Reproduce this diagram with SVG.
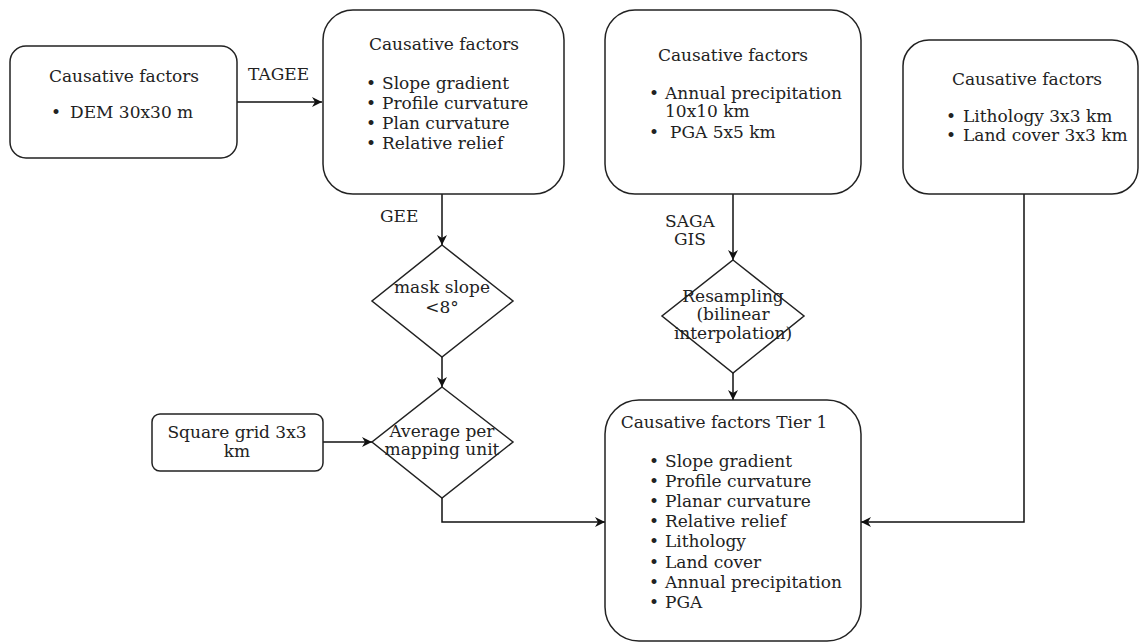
<svg xmlns="http://www.w3.org/2000/svg" width="1139" height="643" viewBox="0 0 1139 643">
<defs>
<marker id="arr" markerUnits="userSpaceOnUse" markerWidth="11" markerHeight="10" refX="10" refY="5" orient="auto">
<path d="M0,0 L10,5 L0,10 L3,5 z" fill="#111"/>
</marker>
<style>
.box{fill:#fff;stroke:#222;stroke-width:1.5}
.t{font-family:"DejaVu Serif","Liberation Serif",serif;font-size:17px;fill:#222}
.c{text-anchor:middle}
.ln{fill:none;stroke:#111;stroke-width:1.5}
</style>
</defs>
<rect width="1139" height="643" fill="#fff"/>
<g id="connectors">
<path class="ln" d="M237,102 L322,102" marker-end="url(#arr)"/>
<path class="ln" d="M442,194 L442,245" marker-end="url(#arr)"/>
<path class="ln" d="M442,357 L442,387" marker-end="url(#arr)"/>
<path class="ln" d="M323,442 L372,442" marker-end="url(#arr)"/>
<path class="ln" d="M442,498 L442,522 L605,522" marker-end="url(#arr)"/>
<path class="ln" d="M733,194 L733,260" marker-end="url(#arr)"/>
<path class="ln" d="M733,373 L733,400" marker-end="url(#arr)"/>
<path class="ln" d="M1024,194 L1024,522 L861,522" marker-end="url(#arr)"/>
<text class="t" x="248" y="80">TAGEE</text>
<text class="t" x="380" y="222">GEE</text>
<text class="t c" x="690" y="227">SAGA</text>
<text class="t c" x="690" y="245">GIS</text>
</g>
<g id="box1">
<rect class="box" x="10" y="46" width="227" height="112" rx="16"/>
<text class="t c" x="124" y="82">Causative factors</text>
<text class="t" x="51" y="118">•</text>
<text class="t" x="70" y="118">DEM 30x30 m</text>
</g>
<g id="box2">
<rect class="box" x="323" y="10" width="241" height="184" rx="30"/>
<text class="t c" x="444" y="50">Causative factors</text>
<text class="t" x="366" y="89">•</text><text class="t" x="382" y="89">Slope gradient</text>
<text class="t" x="366" y="109">•</text><text class="t" x="382" y="109">Profile curvature</text>
<text class="t" x="366" y="129">•</text><text class="t" x="382" y="129">Plan curvature</text>
<text class="t" x="366" y="149">•</text><text class="t" x="382" y="149">Relative relief</text>
</g>
<g id="box3">
<rect class="box" x="605" y="10" width="256" height="184" rx="30"/>
<text class="t c" x="733" y="61">Causative factors</text>
<text class="t" x="649" y="99">•</text><text class="t" x="665" y="99">Annual precipitation</text>
<text class="t" x="665" y="117">10x10 km</text>
<text class="t" x="649" y="138">•</text><text class="t" x="670" y="138">PGA 5x5 km</text>
</g>
<g id="box4">
<rect class="box" x="903" y="40" width="235" height="154" rx="26"/>
<text class="t c" x="1027" y="85">Causative factors</text>
<text class="t" x="946" y="122">•</text><text class="t" x="963" y="122">Lithology 3x3 km</text>
<text class="t" x="946" y="141">•</text><text class="t" x="963" y="141">Land cover 3x3 km</text>
</g>
<g id="diamond1">
<path class="box" d="M442,245 L513,301 L442,357 L372,301 Z"/>
<text class="t c" x="442" y="293">mask slope</text>
<text class="t c" x="442" y="313">&lt;8°</text>
</g>
<g id="diamond2">
<path class="box" d="M442,387 L513,442 L442,498 L372,442 Z"/>
<text class="t c" x="442" y="437">Average per</text>
<text class="t c" x="442" y="455">mapping unit</text>
</g>
<g id="grid">
<rect class="box" x="152" y="414" width="171" height="57" rx="8"/>
<text class="t c" x="237" y="438">Square grid 3x3</text>
<text class="t c" x="237" y="457">km</text>
</g>
<g id="diamond3">
<path class="box" d="M733,260 L804,316 L733,373 L662,316 Z"/>
<text class="t c" x="733" y="302">Resampling</text>
<text class="t c" x="733" y="320">(bilinear</text>
<text class="t c" x="733" y="339">interpolation)</text>
</g>
<g id="tier1">
<rect class="box" x="605" y="400" width="256" height="241" rx="34"/>
<text class="t c" x="724" y="428">Causative factors Tier 1</text>
<text class="t" x="649" y="467">•</text><text class="t" x="665" y="467">Slope gradient</text>
<text class="t" x="649" y="487">•</text><text class="t" x="665" y="487">Profile curvature</text>
<text class="t" x="649" y="507">•</text><text class="t" x="665" y="507">Planar curvature</text>
<text class="t" x="649" y="527">•</text><text class="t" x="665" y="527">Relative relief</text>
<text class="t" x="649" y="547">•</text><text class="t" x="665" y="547">Lithology</text>
<text class="t" x="649" y="568">•</text><text class="t" x="665" y="568">Land cover</text>
<text class="t" x="649" y="588">•</text><text class="t" x="665" y="588">Annual precipitation</text>
<text class="t" x="649" y="608">•</text><text class="t" x="665" y="608">PGA</text>
</g>
</svg>
